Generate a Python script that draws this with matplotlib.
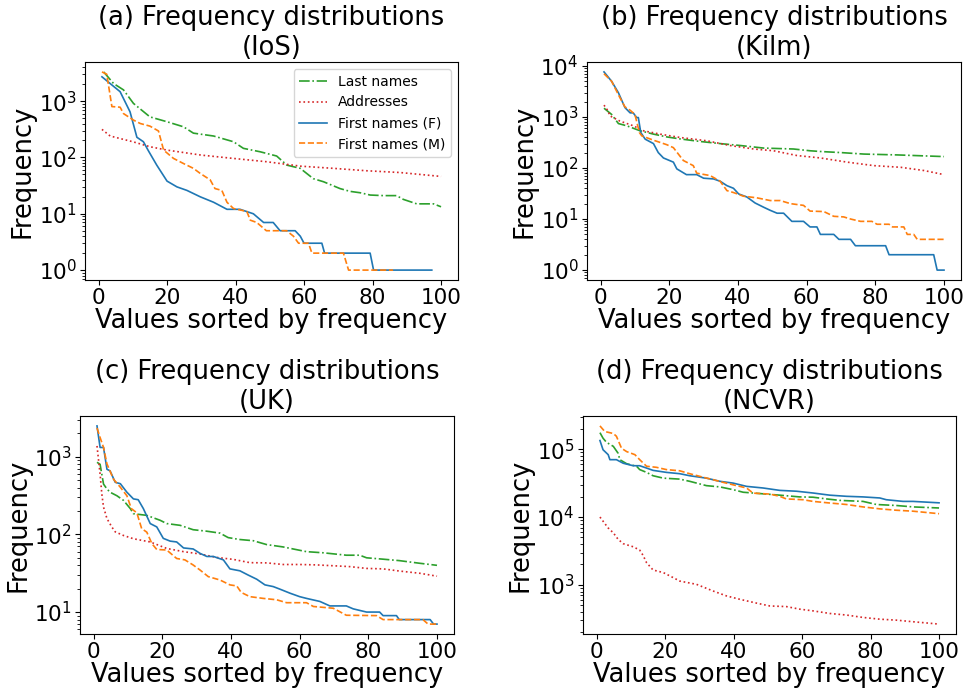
import matplotlib.pyplot as plt

# ---- (a) IoS ----
ios_last_x = [1.5, 4.4, 7.3, 10.2, 15, 20, 24.8, 27.7, 33.6, 39.4, 42.3, 47.2, 52, 55, 58.9, 62.7, 65.7, 70.5, 73.4, 76.4, 79.3, 83.2, 87, 89, 92.9, 97.8, 100]
ios_last_y = [3300, 2050, 1580, 910, 525, 430, 350, 270, 240, 190, 145, 126, 106, 73, 64, 42, 37, 28, 25, 23.6, 21.5, 21, 21, 18, 15, 15, 13.3]
ios_addr_x = [1, 3.4, 10, 15, 20, 30, 39.4, 49, 59, 68.6, 78.3, 88, 100]
ios_addr_y = [315, 240, 190, 155, 135, 110, 96, 84, 70, 64, 58, 54, 46]
ios_f_x = [1, 3.4, 6.3, 9.2, 11.2, 13.1, 14.6, 17, 20, 22.9, 25.8, 29.7, 33.6, 37.5, 41.3, 45.2, 48.2, 51, 53, 57.4, 58.9, 60, 65.2, 66, 79.3, 80.3, 97.3]
ios_f_y = [2700, 2050, 1470, 645, 228, 190, 130, 73, 38, 30, 26, 20, 16, 12, 12, 10, 7, 7, 5, 5, 4, 3, 3, 2, 2, 1, 1]
ios_m_x = [1, 2.4, 3.9, 6.3, 7.3, 10.2, 12.2, 15, 17.5, 19, 21.9, 24.8, 27.7, 29.7, 32.6, 34, 36, 37.5, 39.4, 43.3, 44.3, 46.2, 49, 54.9, 56.9, 58.4, 61.3, 62.3, 71.5, 73, 86]
ios_m_y = [3300, 3000, 800, 780, 600, 460, 400, 360, 295, 135, 96, 78, 64, 52, 40, 28, 26, 16, 12.4, 11, 7.7, 7, 5, 5, 4, 3, 3, 2, 2, 1, 1]

# ---- (b) Kilm ----
kilm_last_x = [1, 3.2, 5.2, 7.6, 11.5, 15.4, 19.3, 23.2, 29, 34.8, 40.7, 47.5, 56.2, 61, 64, 70, 76.7, 86.4, 100]
kilm_last_y = [1480, 1120, 740, 670, 535, 460, 405, 370, 330, 300, 275, 245, 235, 217, 210, 200, 187, 180, 167]
kilm_addr_x = [1, 2.2, 2.7, 5.6, 9.5, 12.5, 17.3, 23.2, 31, 37.7, 44.6, 50.4, 57.2, 64, 71.8, 79.6, 87.4, 94.2, 100]
kilm_addr_y = [1700, 1300, 1050, 830, 670, 535, 460, 395, 340, 275, 235, 217, 175, 157, 130, 111, 103, 89, 74]
kilm_f_x = [1, 3.2, 5.2, 7.1, 8.6, 9.5, 10.5, 11, 11.7, 13, 15.4, 16.8, 18.3, 21.2, 22.2, 25, 28, 30, 32.9, 34.8, 36.8, 38.7, 40.2, 42.6, 45, 47.5, 49.4, 51.4, 53.3, 55.7, 59.1, 61, 63, 64, 67.9, 69.4, 72.8, 74.2, 83, 84, 97, 98, 100]
kilm_f_y = [7600, 5000, 2970, 1520, 1200, 1200, 970, 970, 495, 366, 300, 200, 157, 130, 96, 74, 74, 63, 61, 55, 45, 40, 31, 27, 20.6, 17, 14.8, 13, 13, 9, 9, 7, 7, 5, 5, 4, 4, 3, 3, 2, 2, 1, 1]
kilm_m_x = [1, 3.2, 5.6, 7.1, 8.6, 10, 11.3, 12, 15.4, 19.3, 21.2, 24.1, 27, 28, 31.9, 34.8, 36.8, 38.7, 41.6, 45.5, 49.4, 52.3, 55.3, 59.1, 61, 65, 67.9, 70.8, 72.8, 75.7, 79, 80.5, 84, 85, 88.3, 89.3, 91.2, 92.2, 100]
kilm_m_y = [7000, 5000, 2400, 1570, 1350, 1120, 495, 425, 350, 285, 250, 140, 111, 79, 71, 55, 36, 33, 28, 26, 23, 23, 20, 18.5, 14.3, 14, 11.3, 11, 10, 9, 9, 7.9, 7.9, 7, 7, 5, 5, 4, 4]

# ---- (c) UK ----
uk_last_x = [1, 1.9, 2.9, 3.9, 4.8, 6.8, 8.7, 10.7, 11.6, 15.5, 19.4, 21.3, 25.2, 29, 33, 36.8, 39.2, 42.6, 46.5, 50.4, 55.2, 58.1, 62, 66.9, 73.6, 77.5, 79.5, 84.3, 89, 95, 100]
uk_last_y = [850, 800, 445, 385, 350, 315, 275, 215, 185, 176, 152, 138, 131, 115, 110, 104, 91, 86, 83, 74, 69, 65, 60, 58, 54, 54, 50, 48, 46, 42.5, 40]
uk_addr_x = [1, 1.9, 2.4, 2.9, 3.9, 5.3, 6.3, 8.7, 11.6, 16.5, 21.3, 26.2, 31, 35.9, 40.7, 45.5, 50.4, 55.2, 60, 64.9, 69.8, 74.6, 79.5, 84.3, 89, 95, 100]
uk_addr_y = [1380, 600, 333, 225, 160, 125, 108, 97, 88, 80, 66, 60, 56, 50.5, 47.7, 43.3, 43, 41, 41, 40.5, 39.5, 38.5, 36.5, 36, 33.8, 31.6, 29]
uk_f_x = [1, 1.9, 2.9, 3.9, 4.8, 6.3, 7.8, 9.7, 11.6, 13, 14.5, 16.5, 18.4, 20.3, 22.3, 24.2, 26.2, 29, 31, 33, 34.9, 37.8, 39.7, 42.6, 45, 47.5, 49.9, 52.3, 54.3, 57.2, 60, 62, 65.9, 68.8, 73.6, 75.6, 79.5, 83.3, 84.3, 88.2, 89, 98, 99, 100]
uk_f_y = [2500, 1320, 1320, 690, 660, 470, 450, 350, 287, 280, 215, 138, 125, 89, 82, 80, 67, 65, 57, 52, 52, 47, 36, 34, 30, 26.5, 22.4, 21.3, 19.7, 17.5, 15.8, 15, 13.7, 12, 12, 11, 10, 10, 9, 9, 8, 8, 7, 7]
uk_m_x = [1, 1.9, 2.9, 3.9, 5.8, 7.8, 9.7, 11, 12.6, 14, 15.5, 17, 18.4, 21.3, 24.2, 26.6, 29, 31, 33.4, 36.8, 39.7, 41.7, 43, 45.5, 49.4, 53.3, 56.2, 62, 64, 69.8, 73.6, 82.4, 84.3, 95.9, 97.4, 100]
uk_m_y = [2350, 1770, 1320, 810, 515, 405, 315, 215, 190, 119, 107, 76, 64, 63, 49, 47, 40.4, 34.8, 28.6, 25.9, 22.4, 21.7, 17.9, 15.8, 15, 14.4, 13.2, 13.2, 11.8, 11.2, 9.1, 9, 8, 8, 7, 7]

# ---- (d) NCVR ----
ncvr_last_x = [1, 1.9, 2.9, 4.9, 6.3, 6.8, 8.8, 11.7, 12.6, 14.6, 16.5, 19.5, 24.3, 27.2, 32.1, 36, 39.9, 42.8, 47.6, 53.5, 59.3, 63.2, 67.1, 71, 77.8, 81.7, 87.5, 92.4, 100]
ncvr_last_y = [175000, 145000, 126000, 110000, 87000, 70000, 61000, 56000, 50000, 45500, 40600, 37400, 36200, 33600, 29000, 27800, 25300, 23200, 22200, 21000, 19800, 19600, 18500, 17600, 17000, 15300, 14800, 14100, 13600]
ncvr_addr_x = [1, 1.9, 3.4, 4.9, 6.3, 7.8, 10.7, 12.6, 13.6, 14.6, 16.5, 19.5, 22.4, 24.3, 29.2, 34, 37.9, 41.8, 46.7, 50.6, 55.4, 59.3, 63.2, 68.1, 73, 77.8, 82.7, 87.5, 92.4, 100]
ncvr_addr_y = [10000, 8700, 6900, 5850, 4700, 4050, 3650, 3260, 2720, 2130, 1660, 1520, 1280, 1140, 1020, 815, 690, 615, 540, 490, 480, 440, 415, 380, 360, 332, 313, 303, 287, 265]
ncvr_f_x = [1, 1.9, 3.4, 3.9, 5.8, 7.8, 10.7, 12.6, 14.6, 16.5, 20.4, 24.3, 27.2, 32.1, 36, 39.9, 43.8, 48.6, 53.5, 58.4, 63.2, 68.1, 73, 77.8, 82.7, 84.6, 89.5, 92.4, 100]
ncvr_f_y = [134000, 98000, 83000, 70000, 70000, 62000, 57000, 57000, 52700, 48700, 45500, 43500, 40600, 37400, 33600, 31600, 28300, 26800, 24700, 24000, 22600, 21000, 20200, 19800, 19100, 18000, 17000, 17000, 16200]
ncvr_m_x = [1, 2.4, 4.9, 5.8, 7.3, 8.8, 11.2, 12.6, 14.6, 17.5, 20.4, 24.3, 27.2, 30.2, 34, 37, 40.9, 43.8, 45.7, 50.6, 53.5, 55.4, 60.3, 63.2, 68.1, 73, 77.8, 82.7, 87.5, 92.4, 100]
ncvr_m_y = [220000, 182000, 170000, 155000, 103000, 92000, 83000, 70000, 56000, 54000, 50000, 48000, 43500, 39700, 35500, 32400, 29000, 26800, 22500, 21800, 20200, 18500, 18000, 17000, 16100, 15300, 14100, 13200, 12600, 12200, 11200]

titles = ['(a) Frequency distributions\n(IoS)', '(b) Frequency distributions\n(Kilm)',
          '(c) Frequency distributions\n(UK)', '(d) Frequency distributions\n(NCVR)']
panels = [
    [(ios_last_x, ios_last_y), (ios_addr_x, ios_addr_y), (ios_f_x, ios_f_y), (ios_m_x, ios_m_y)],
    [(kilm_last_x, kilm_last_y), (kilm_addr_x, kilm_addr_y), (kilm_f_x, kilm_f_y), (kilm_m_x, kilm_m_y)],
    [(uk_last_x, uk_last_y), (uk_addr_x, uk_addr_y), (uk_f_x, uk_f_y), (uk_m_x, uk_m_y)],
    [(ncvr_last_x, ncvr_last_y), (ncvr_addr_x, ncvr_addr_y), (ncvr_f_x, ncvr_f_y), (ncvr_m_x, ncvr_m_y)],
]
labels = ['Last names', 'Addresses', 'First names (F)', 'First names (M)']
colors = ['#2ca02c', '#d62728', '#1f77b4', '#ff7f0e']
styles = ['-.', ':', '-', '--']

# axes boxes in pixels (left, top, right, bottom)
boxes = [(85, 62, 458, 280), (587, 62, 961, 280), (80, 416, 454, 634), (583, 416, 956, 634)]

W, H = 965, 693
fig = plt.figure(figsize=(W / 100, H / 100), dpi=100)

for i in range(4):
    l, t, r, b = boxes[i]
    ax = fig.add_axes([l / W, 1 - b / H, (r - l) / W, (b - t) / H])
    for (x, y), lab, c, ls in zip(panels[i], labels, colors, styles):
        ax.plot(x, y, color=c, linestyle=ls, label=lab, lw=1.2)
    ax.set_yscale('log')
    ax.set_xticks([0, 20, 40, 60, 80, 100])
    ax.set_title(titles[i], fontsize=18.5, pad=5)
    ax.set_xlabel('Values sorted by frequency', fontsize=18.5, labelpad=0)
    ax.set_ylabel('Frequency', fontsize=18.5, labelpad=2)
    ax.tick_params(labelsize=15.5, pad=2.5)
    if i == 0:
        ax.legend(loc='upper right', fontsize=10)

fig.savefig('out.png', dpi=100)
